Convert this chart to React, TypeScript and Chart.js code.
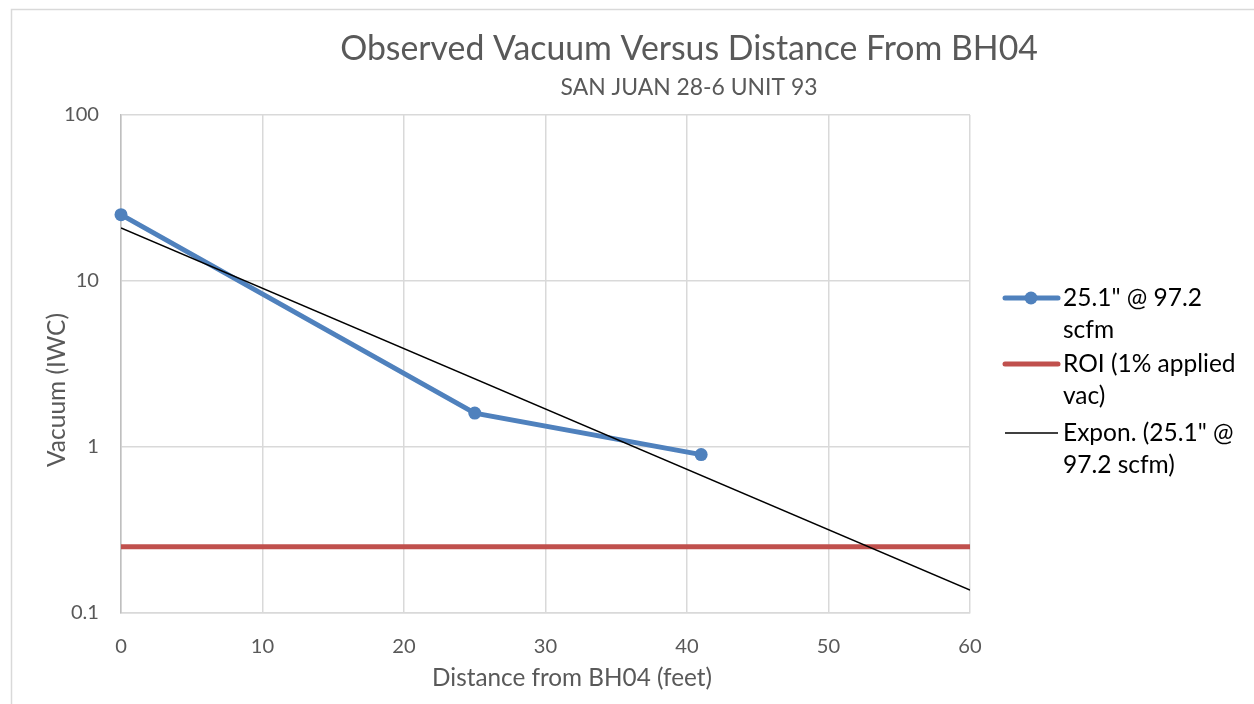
import React, { useEffect, useRef } from 'react';
import { Chart, registerables } from 'chart.js';

Chart.register(...registerables);

// ---- data ----
const distances = [0, 25, 41];
const vacuum = [25.1, 1.6, 0.9];
const roiX = [0, 60];
const roiValue = 0.251;
const trendX = [0, 60];
const xTickValues = [0, 10, 20, 30, 40, 50, 60];
const yTickValues = [0.1, 1, 10, 100];
const yTickLabels = ['0.1', '1', '10', '100'];
const titleText = 'Observed Vacuum Versus Distance From BH04';
const subtitleText = 'SAN JUAN 28-6 UNIT 93';
const xTitleText = 'Distance from BH04 (feet)';
const yTitleText = 'Vacuum (IWC)';
const legendSeries = ['25.1" @ 97.2', 'scfm'];
const legendRoi = ['ROI (1% applied', 'vac)'];
const legendTrend = ['Expon. (25.1" @', '97.2 scfm)'];

const BLUE = '#4F81BD';
const RED = '#C0504D';
const GRID = '#D9D9D9';
const TEXT = '#595959';
const FAMILY = 'Lato, "Open Sans", sans-serif';

function fitSize(text: string, target: number): number {
  const c = document.createElement('canvas').getContext('2d')!;
  c.font = `100px ${FAMILY}`;
  return (100 * target) / c.measureText(text).width;
}

// exponential least-squares fit (Excel "Expon." trendline)
function expFit(xs: number[], ys: number[]) {
  const n = xs.length;
  const ly = ys.map((v) => Math.log(v));
  const mx = xs.reduce((a, b) => a + b, 0) / n;
  const my = ly.reduce((a, b) => a + b, 0) / n;
  let sxy = 0;
  let sxx = 0;
  for (let i = 0; i < n; i++) {
    sxy += (xs[i] - mx) * (ly[i] - my);
    sxx += (xs[i] - mx) * (xs[i] - mx);
  }
  const b = sxy / sxx;
  const a = Math.exp(my - b * mx);
  return { a, b };
}

export default function App() {
  const ref = useRef<HTMLCanvasElement | null>(null);

  useEffect(() => {
    const canvas = ref.current!;
    const fit = expFit(distances, vacuum);
    const titleSize = fitSize(titleText, 698);
    const subSize = fitSize(subtitleText, 257);
    const tickSize = fitSize('100', 35);
    const xTitleSize = fitSize(xTitleText, 280);
    const yTitleSize = fitSize(yTitleText, 154);
    const legendSize = fitSize(legendSeries[0], 139);

    const overlay = {
      id: 'overlay',
      afterDraw(chart: any) {
        const ctx = chart.ctx as CanvasRenderingContext2D;
        ctx.save();
        // outer chart border
        ctx.strokeStyle = GRID;
        ctx.lineWidth = 1.5;
        ctx.strokeRect(11.5, 9.5, 1400, 900);

        ctx.fillStyle = TEXT;
        ctx.textAlign = 'center';
        ctx.textBaseline = 'middle';
        ctx.font = `${titleSize}px ${FAMILY}`;
        ctx.fillText(titleText, 689, 49);
        ctx.font = `${subSize}px ${FAMILY}`;
        ctx.fillText(subtitleText, 689, 88);
        ctx.font = `${xTitleSize}px ${FAMILY}`;
        ctx.fillText(xTitleText, 572, 678);
        ctx.save();
        ctx.translate(57, 390);
        ctx.rotate(-Math.PI / 2);
        ctx.font = `${yTitleSize}px ${FAMILY}`;
        ctx.fillText(yTitleText, 0, 0);
        ctx.restore();

        // legend
        const ds = chart.data.datasets;
        const items = [
          { lines: legendSeries, y: 298, ds: ds[0], marker: true },
          { lines: legendRoi, y: 364, ds: ds[1], marker: false },
          { lines: legendTrend, y: 433, ds: ds[2], marker: false },
        ];
        ctx.textAlign = 'left';
        ctx.font = `${legendSize}px ${FAMILY}`;
        for (const it of items) {
          ctx.strokeStyle = it.ds.borderColor;
          ctx.lineWidth = it.ds.borderWidth;
          ctx.lineCap = it.ds.borderWidth > 2 ? 'round' : 'butt';
          ctx.beginPath();
          ctx.moveTo(1005, it.y);
          ctx.lineTo(1058, it.y);
          ctx.stroke();
          if (it.marker) {
            ctx.fillStyle = it.ds.backgroundColor;
            ctx.beginPath();
            ctx.arc(1031, it.y, it.ds.pointRadius, 0, Math.PI * 2);
            ctx.fill();
          }
          ctx.fillStyle = '#000000';
          it.lines.forEach((t: string, i: number) => {
            ctx.fillText(t, 1063, it.y + i * 32);
          });
        }
        ctx.restore();
      },
    };

    const chart = new Chart(canvas, {
      type: 'scatter',
      data: {
        datasets: [
          {
            label: legendSeries.join(' '),
            data: distances.map((x, i) => ({ x, y: vacuum[i] })),
            showLine: true,
            borderColor: BLUE,
            backgroundColor: BLUE,
            borderWidth: 5,
            pointRadius: 6.5,
            pointHoverRadius: 6.5,
            pointBorderWidth: 0,
            clip: false,
            order: 1,
          } as any,
          {
            label: legendRoi.join(' '),
            data: roiX.map((x) => ({ x, y: roiValue })),
            showLine: true,
            borderColor: RED,
            backgroundColor: RED,
            borderWidth: 5,
            pointRadius: 0,
            order: 2,
          } as any,
          {
            label: legendTrend.join(' '),
            data: trendX.map((x) => ({ x, y: fit.a * Math.exp(fit.b * x) })),
            showLine: true,
            borderColor: '#000000',
            backgroundColor: '#000000',
            borderWidth: 1.5,
            pointRadius: 0,
            order: 0,
          } as any,
        ],
      },
      options: {
        animation: false,
        responsive: false,
        maintainAspectRatio: false,
        layout: { padding: { left: 0, top: 115, right: 284, bottom: 0 } },
        plugins: {
          legend: { display: false },
          title: { display: false },
          tooltip: { enabled: false },
        },
        scales: {
          x: {
            type: 'linear',
            min: 0,
            max: 60,
            afterBuildTicks: (s: any) => {
              s.ticks = xTickValues.map((v) => ({ value: v }));
            },
            afterFit: (s: any) => {
              s.height = 91;
            },
            grid: { color: GRID, lineWidth: 1.5, drawTicks: false },
            border: { color: GRID, width: 1.5 },
            ticks: {
              color: TEXT,
              font: { family: FAMILY, size: tickSize },
              padding: 21,
              maxRotation: 0,
            },
          },
          y: {
            type: 'logarithmic',
            min: 0.1,
            max: 100,
            afterBuildTicks: (s: any) => {
              s.ticks = yTickValues.map((v) => ({ value: v }));
            },
            afterFit: (s: any) => {
              s.width = 121;
            },
            grid: { color: GRID, lineWidth: 1.5, drawTicks: false },
            border: { color: '#BFBFBF', width: 1.5 },
            ticks: {
              color: TEXT,
              font: { family: FAMILY, size: tickSize },
              padding: 22,
              callback: (_v: any, i: number) => yTickLabels[i],
            },
          },
        },
      },
      plugins: [overlay],
    });
    return () => chart.destroy();
  }, []);

  return (
    <div style={{ position: 'absolute', left: 0, top: 0, width: 1254, height: 704, background: '#fff' }}>
      <canvas ref={ref} width={1254} height={704} style={{ width: 1254, height: 704 }} />
    </div>
  );
}
